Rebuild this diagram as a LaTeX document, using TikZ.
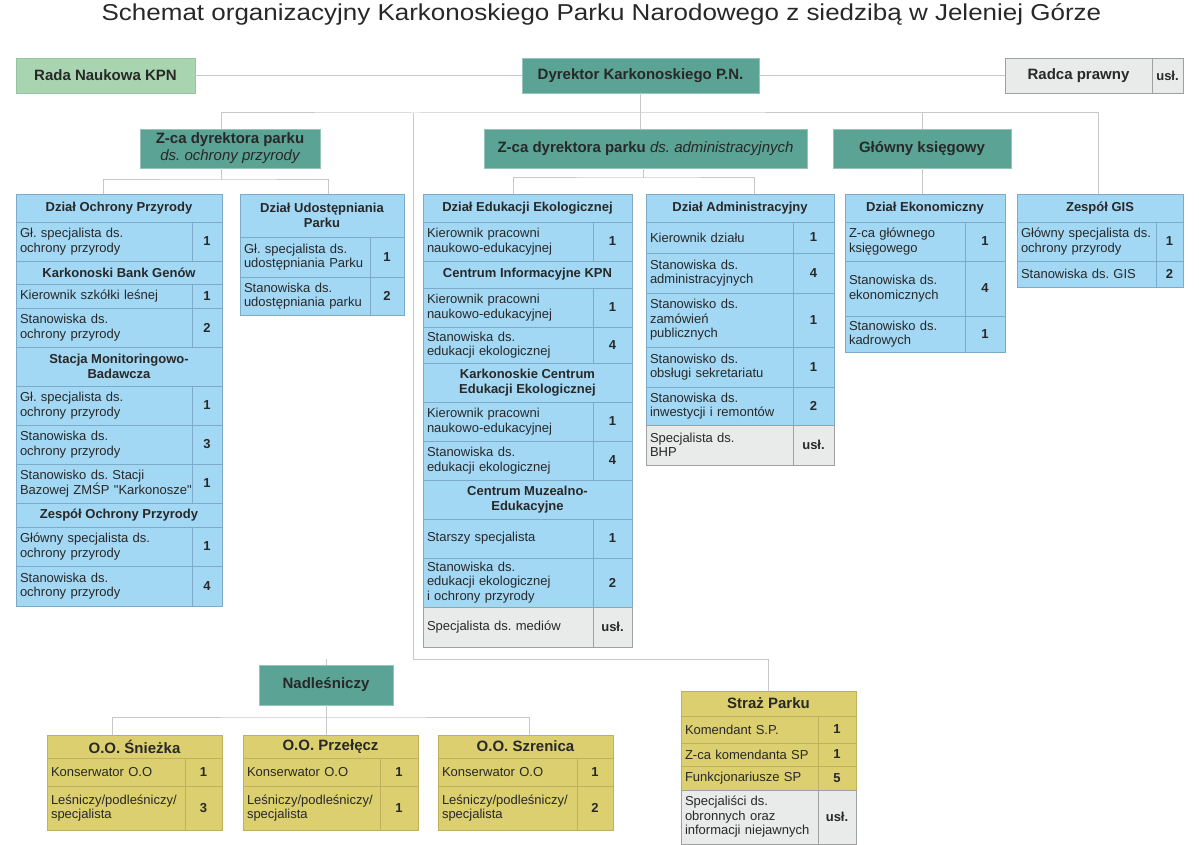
\documentclass[tikz,border=0pt]{standalone}
\usepackage{fontspec}
\setmainfont{Liberation Sans}[Ligatures=TeXOff]
\usetikzlibrary{positioning}
\frenchspacing

\definecolor{ink}{RGB}{40,40,40}
\definecolor{bossfill}{RGB}{91,163,148}
\definecolor{bossline}{RGB}{150,196,185}
\definecolor{radafill}{RGB}{168,213,176}
\definecolor{radaline}{RGB}{150,196,160}
\definecolor{bluefill}{RGB}{163,216,245}
\definecolor{blueline}{RGB}{125,170,200}
\definecolor{yelfill}{RGB}{220,207,112}
\definecolor{yelline}{RGB}{190,176,92}
\definecolor{grayfill}{RGB}{233,234,234}
\definecolor{grayline}{RGB}{160,160,160}
\definecolor{connline}{RGB}{200,200,200}

\newcommand{\txtfont}{\fontsize{13pt}{14.5pt}\selectfont}
\newcommand{\numfont}{\fontsize{13pt}{14.5pt}\selectfont\bfseries}
\newcommand{\hdfont}{\fontsize{13pt}{15pt}\selectfont\bfseries}
\newcommand{\bigfont}{\fontsize{15pt}{17pt}\selectfont\bfseries}

\tikzset{
  boss/.style={rectangle, draw=bossline, fill=bossfill, line width=0.8pt, font=\bigfont, text=ink, align=center, inner sep=0pt},
  rada/.style={rectangle, draw=radaline, fill=radafill, line width=0.8pt, font=\bigfont, text=ink, inner sep=0pt},
  bcell/.style={rectangle, draw=blueline, fill=bluefill, line width=0.8pt, inner xsep=4pt, inner ysep=0pt, font=\txtfont, text=ink},
  ycell/.style={rectangle, draw=yelline, fill=yelfill, line width=0.8pt, inner xsep=4pt, inner ysep=0pt, font=\txtfont, text=ink},
  gcell/.style={rectangle, draw=grayline, fill=grayfill, line width=0.8pt, inner xsep=4pt, inner ysep=0pt, font=\txtfont, text=ink},
  hd/.style={font=\hdfont},
  bighd/.style={font=\bigfont},
  conn/.style={draw=connline, line width=1pt}
}

% header cell: name, style, x1, x2, y1, y2, text
\newcommand{\phead}[7]{%
  \node[#2, align=center, minimum width=#4pt-#3pt, minimum height=#6pt-#5pt] (#1) at ({(#3+#4)/2},{(#5+#6)/2}) {#7};}
% row: name, style, x1, xsplit, x2, y1, y2, text, number
\newcommand{\prow}[9]{%
  \pgfmathsetmacro{\tw}{#4-#3-8}%
  \node[#2, align=left, text width=\tw pt, minimum width=#4pt-#3pt, minimum height=#7pt-#6pt] (#1) at ({(#3+#4)/2},{(#6+#7)/2}) {#8};
  \node[#2, font=\numfont, minimum width=#5pt-#4pt, minimum height=#7pt-#6pt] (#1n) at ({(#4+#5)/2},{(#6+#7)/2}) {#9};}

\begin{document}
\begin{tikzpicture}[x=1pt, y=-1pt]
	\useasboundingbox (0,0) rectangle (1199,845);
	\node[text=ink, anchor=base, font=\fontsize{23pt}{26pt}\selectfont] (title) at (601.5,21) {\scalebox{1.13}[1]{Schemat organizacyjny Karkonoskiego Parku Narodowego z siedzibą w Jeleniej Górze}};

	\node[rada, minimum width=179pt, minimum height=35pt] (rada) at (105.5,75.5) {Rada Naukowa KPN};
	\node[boss, minimum width=237pt, minimum height=35pt] (dyr) at (640.5,75.5) {Dyrektor Karkonoskiego P.N.};
	\node[gcell, font=\bigfont, minimum width=147pt, minimum height=35pt] (radca) at (1078.5,75.5) {Radca prawny};
	\node[gcell, font=\numfont, minimum width=31pt, minimum height=35pt] (radcan) at (1167.5,75.5) {usł.};

	\node[boss, minimum width=180pt, minimum height=39pt] (zochr) at (230,148.5) {Z-ca dyrektora parku\\{\mdseries\itshape ds. ochrony przyrody}};
	\node[boss, minimum width=323pt, minimum height=39pt] (zadm) at (645.5,148.5) {Z-ca dyrektora parku {\mdseries\itshape ds. administracyjnych}};
	\node[boss, minimum width=178pt, minimum height=39pt] (gks) at (922,148.5) {Główny księgowy};
	\node[boss, minimum width=134pt, minimum height=40pt] (nadl) at (326,685) {Nadleśniczy};

	% Dzial Ochrony Przyrody
	\phead{ochr}{bcell,hd}{16}{222}{194}{222}{Dział Ochrony Przyrody}
	\prow{ochra}{bcell}{16}{192}{222}{222}{261}{Gł. specjalista ds.\\ochrony przyrody}{1}
	\phead{bank}{bcell,hd}{16}{222}{261}{284}{Karkonoski Bank Genów}
	\prow{banka}{bcell}{16}{192}{222}{284}{308}{Kierownik szkółki leśnej}{1}
	\prow{bankb}{bcell}{16}{192}{222}{308}{347}{Stanowiska ds.\\ochrony przyrody}{2}
	\phead{stac}{bcell,hd}{16}{222}{347}{386}{Stacja Monitoringowo-\\Badawcza}
	\prow{staca}{bcell}{16}{192}{222}{386}{425}{Gł. specjalista ds.\\ochrony przyrody}{1}
	\prow{stacb}{bcell}{16}{192}{222}{425}{464}{Stanowiska ds.\\ochrony przyrody}{3}
	\prow{stacc}{bcell}{16}{192}{222}{464}{503}{Stanowisko ds. Stacji\\\mbox{Bazowej ZMŚP "Karkonosze"}}{1}
	\phead{zesp}{bcell,hd}{16}{222}{503}{527}{Zespół Ochrony Przyrody}
	\prow{zespa}{bcell}{16}{192}{222}{527}{566}{Główny specjalista ds.\\ochrony przyrody}{1}
	\prow{zespb}{bcell}{16}{192}{222}{566}{606}{Stanowiska ds.\\ochrony przyrody}{4}

	% Dzial Udostepniania Parku
	\phead{udo}{bcell,hd}{240}{404}{194}{237}{Dział Udostępniania\\Parku}
	\prow{udoa}{bcell}{240}{370}{404}{237}{277}{Gł. specjalista ds.\\udostępniania Parku}{1}
	\prow{udob}{bcell}{240}{370}{404}{277}{315}{Stanowiska ds.\\udostępniania parku}{2}

	% Dzial Edukacji Ekologicznej
	\phead{edu}{bcell,hd}{423}{632}{194}{222}{Dział Edukacji Ekologicznej}
	\prow{edua}{bcell}{423}{593}{632}{222}{261}{Kierownik pracowni\\naukowo-edukacyjnej}{1}
	\phead{cik}{bcell,hd}{423}{632}{261}{288}{Centrum Informacyjne KPN}
	\prow{cika}{bcell}{423}{593}{632}{288}{327}{Kierownik pracowni\\naukowo-edukacyjnej}{1}
	\prow{cikb}{bcell}{423}{593}{632}{327}{363}{Stanowiska ds.\\edukacji ekologicznej}{4}
	\phead{kcee}{bcell,hd}{423}{632}{363}{402}{Karkonoskie Centrum\\Edukacji Ekologicznej}
	\prow{kceea}{bcell}{423}{593}{632}{402}{441}{Kierownik pracowni\\naukowo-edukacyjnej}{1}
	\prow{kceeb}{bcell}{423}{593}{632}{441}{480}{Stanowiska ds.\\edukacji ekologicznej}{4}
	\phead{cme}{bcell,hd}{423}{632}{480}{519}{Centrum Muzealno-\\Edukacyjne}
	\prow{cmea}{bcell}{423}{593}{632}{519}{558}{Starszy specjalista}{1}
	\prow{cmeb}{bcell}{423}{593}{632}{558}{607}{Stanowiska ds.\\edukacji ekologicznej\\i ochrony przyrody}{2}
	\prow{cmec}{gcell}{423}{593}{632}{607}{647}{Specjalista ds. mediów}{usł.}

	% Dzial Administracyjny
	\phead{adm}{bcell,hd}{646}{834}{194}{222}{Dział Administracyjny}
	\prow{adma}{bcell}{646}{793}{834}{222}{253}{Kierownik działu}{1}
	\prow{admb}{bcell}{646}{793}{834}{253}{293}{Stanowiska ds.\\administracyjnych}{4}
	\prow{admc}{bcell}{646}{793}{834}{293}{347}{Stanowisko ds.\\zamówień\\publicznych}{1}
	\prow{admd}{bcell}{646}{793}{834}{347}{387}{Stanowisko ds.\\obsługi sekretariatu}{1}
	\prow{adme}{bcell}{646}{793}{834}{387}{425}{Stanowiska ds.\\inwestycji i remontów}{2}
	\prow{admf}{gcell}{646}{793}{834}{425}{465}{Specjalista ds.\\BHP}{usł.}

	% Dzial Ekonomiczny
	\phead{eko}{bcell,hd}{845}{1005}{194}{222}{Dział Ekonomiczny}
	\prow{ekoa}{bcell}{845}{965}{1005}{222}{261}{Z-ca głównego\\księgowego}{1}
	\prow{ekob}{bcell}{845}{965}{1005}{261}{316}{Stanowiska ds.\\ekonomicznych}{4}
	\prow{ekoc}{bcell}{845}{965}{1005}{316}{352}{Stanowisko ds.\\kadrowych}{1}

	% Zespol GIS
	\phead{gis}{bcell,hd}{1017}{1183}{194}{222}{Zespół GIS}
	\prow{gisa}{bcell}{1017}{1156}{1183}{222}{261}{Główny specjalista ds.\\ochrony przyrody}{1}
	\prow{gisb}{bcell}{1017}{1156}{1183}{261}{287}{Stanowiska ds. GIS}{2}

	% Obwody ochronne
	\phead{sn}{ycell,bighd}{47}{222}{735}{758}{O.O. Śnieżka}
	\prow{sna}{ycell}{47}{185}{222}{758}{786}{Konserwator O.O}{1}
	\prow{snb}{ycell}{47}{185}{222}{786}{830}{Leśniczy/podleśniczy/\\specjalista}{3}
	\phead{prz}{ycell,bighd}{243}{418}{735}{758}{O.O. Przełęcz}
	\prow{prza}{ycell}{243}{380}{418}{758}{786}{Konserwator O.O}{1}
	\prow{przb}{ycell}{243}{380}{418}{786}{830}{Leśniczy/podleśniczy/\\specjalista}{1}
	\phead{sz}{ycell,bighd}{438}{613}{735}{758}{O.O. Szrenica}
	\prow{sza}{ycell}{438}{577}{613}{758}{786}{Konserwator O.O}{1}
	\prow{szb}{ycell}{438}{577}{613}{786}{830}{Leśniczy/podleśniczy/\\specjalista}{2}

	% Straz Parku
	\phead{str}{ycell,bighd}{681}{856}{691}{716}{Straż Parku}
	\prow{stra}{ycell}{681}{818}{856}{716}{743}{Komendant S.P.}{1}
	\prow{strb}{ycell}{681}{818}{856}{743}{766}{Z-ca komendanta SP}{1}
	\prow{strc}{ycell}{681}{818}{856}{766}{790}{Funkcjonariusze SP}{5}
	\prow{strd}{gcell}{681}{818}{856}{790}{844}{Specjaliści ds.\\obronnych oraz\\informacji niejawnych}{usł.}

	% connectors
	\coordinate (bus) at (413,113);
	\coordinate (nbus) at (413,659);
	\coordinate (ojoin) at (221,180);
	\coordinate (ajoin) at (643,178);
	\coordinate (njoin) at (326,717);
	\draw[conn] (rada) -- (dyr);
	\draw[conn] (dyr) -- (radca);
	\draw[conn] (dyr.south) -- (dyr.south |- zadm.north);
	\draw[conn] ([xshift=-9pt]zochr.north) |- (bus) -| ([xshift=-2pt]gis.north);
	\draw[conn] (gks.north) -- (gks.north |- bus);
	\draw[conn] (gks.south) -- (gks.south |- eko.north);
	\draw[conn] (bus) -- (nbus) -| (str.north);
	\draw[conn] (nadl.north) -- (nadl.north |- nbus);
	\draw[conn] ([xshift=-9pt]zochr.south) -- (ojoin);
	\draw[conn] ([xshift=-16pt]ochr.north) |- (ojoin) -| ([xshift=6pt]udo.north);
	\draw[conn] ([xshift=-2.5pt]zadm.south) -- (ajoin);
	\draw[conn] ([xshift=-14.5pt]edu.north) |- (ajoin) -| ([xshift=14pt]adm.north);
	\draw[conn] (nadl.south) -- (nadl.south |- prz.north);
	\draw[conn] ([xshift=-22.5pt]sn.north) |- (njoin) -| ([xshift=3.5pt]sz.north);
\end{tikzpicture}
\end{document}
